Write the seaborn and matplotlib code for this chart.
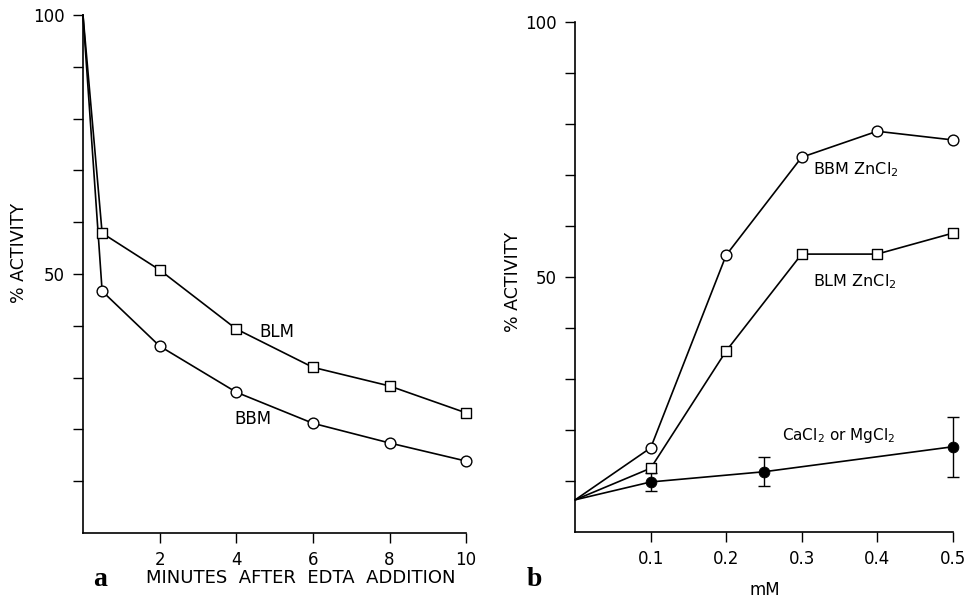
import numpy as np
import pandas as pd
import matplotlib
matplotlib.use("Agg")
import matplotlib.pyplot as plt
import seaborn as sns

# ---- data: panel a ----
minutes = [0, 0.5, 2, 4, 6, 8, 10]
blm_activity = [100, 57.9, 50.8, 39.4, 32.0, 28.4, 23.2]
bbm_activity = [100, 46.7, 36.1, 27.2, 21.2, 17.4, 13.9]

# ---- data: panel b ----
mm = [0, 0.1, 0.2, 0.3, 0.4, 0.5]
bbm_zn = [6.3, 16.5, 54.3, 73.5, 78.6, 76.9]
blm_zn = [6.3, 12.5, 35.5, 54.5, 54.5, 58.6]
ca_mm = [0, 0.1, 0.25, 0.5]
ca_mg = [6.3, 9.8, 11.8, 16.7]
ca_err = [0, 1.8, 2.8, 5.9]

a_xticks = [2, 4, 6, 8, 10]
b_xticks = [0.1, 0.2, 0.3, 0.4, 0.5]
b_xticklabels = ["0.1", "0.2", "0.3", "0.4", "0.5"]
y_ticks = [10, 20, 30, 40, 50, 60, 70, 80, 90, 100]
y_ticklabels = ["", "", "", "", "50", "", "", "", "", "100"]

sns.set_style("ticks")
plt.rcParams['font.family'] = ['DejaVu Sans']
plt.rcParams['text.color'] = 'black'
plt.rcParams['axes.labelcolor'] = 'black'
plt.rcParams['xtick.color'] = 'black'
plt.rcParams['ytick.color'] = 'black'

fig = plt.figure(figsize=(9.75, 5.99), dpi=100)
axa = fig.add_axes([0.0851, 0.110, 0.393, 0.865])
axb = fig.add_axes([0.590, 0.112, 0.387, 0.851])

lw = 1.2
mkw = dict(facecolor="white", edgecolor="black", linewidth=1.0, clip_on=False)

# panel a
da = pd.DataFrame({"x": minutes, "blm": blm_activity, "bbm": bbm_activity})
sns.lineplot(data=da, x="x", y="blm", ax=axa, color="black", lw=lw, clip_on=False)
sns.lineplot(data=da, x="x", y="bbm", ax=axa, color="black", lw=lw, clip_on=False)
sns.scatterplot(data=da.iloc[1:], x="x", y="blm", ax=axa, marker="s", s=55, zorder=3, **mkw)
sns.scatterplot(data=da.iloc[1:], x="x", y="bbm", ax=axa, marker="o", s=60, zorder=3, **mkw)
axa.set_xlim(0, 10)
axa.set_ylim(0, 100)
axa.set_xticks(a_xticks)
axa.set_xticklabels([str(t) for t in a_xticks])
axa.set_yticks(y_ticks)
axa.set_yticklabels(y_ticklabels)
axa.set_xlabel("")
axa.set_ylabel("% ACTIVITY", fontsize=12.5)
axa.yaxis.set_label_coords(-0.144, 0.54)
axa.text(5.05, 38.8, "BLM", fontsize=12, ha="center", va="center")
axa.text(4.44, 22.0, "BBM", fontsize=12, ha="center", va="center")

# panel b
db = pd.DataFrame({"x": mm, "bbm": bbm_zn, "blm": blm_zn})
dc = pd.DataFrame({"x": ca_mm, "y": ca_mg, "e": ca_err})
sns.lineplot(data=db, x="x", y="bbm", ax=axb, color="black", lw=lw, clip_on=False)
sns.lineplot(data=db, x="x", y="blm", ax=axb, color="black", lw=lw, clip_on=False)
sns.lineplot(data=dc, x="x", y="y", ax=axb, color="black", lw=lw, clip_on=False)
sns.scatterplot(data=db.iloc[1:], x="x", y="bbm", ax=axb, marker="o", s=60, zorder=3, **mkw)
sns.scatterplot(data=db.iloc[1:], x="x", y="blm", ax=axb, marker="s", s=55, zorder=3, **mkw)
sns.scatterplot(data=dc.iloc[1:], x="x", y="y", ax=axb, marker="o", s=60, color="black",
                edgecolor="black", zorder=3, clip_on=False)
eb = axb.errorbar(dc["x"][1:], dc["y"][1:], yerr=dc["e"][1:], fmt="none", ecolor="black",
                  elinewidth=1.0, capsize=4, capthick=1.0)
for art in list(eb.lines[1]) + list(eb.lines[2]):
    art.set_clip_on(False)
axb.set_xlim(0, 0.5)
axb.set_ylim(0, 100)
axb.set_xticks(b_xticks)
axb.set_xticklabels(b_xticklabels)
axb.set_yticks(y_ticks)
axb.set_yticklabels(y_ticklabels)
axb.set_xlabel("")
axb.set_ylabel("% ACTIVITY", fontsize=12.5)
axb.yaxis.set_label_coords(-0.142, 0.49)
axb.text(0.315, 71.0, "BBM ZnCl$_2$", fontsize=11.5, ha="left", va="center")
axb.text(0.315, 49.0, "BLM ZnCl$_2$", fontsize=11.5, ha="left", va="center")
axb.text(0.274, 19.0, "CaCl$_2$ or MgCl$_2$", fontsize=11, ha="left", va="center")

for ax in (axa, axb):
    sns.despine(ax=ax)
    ax.tick_params(axis="both", direction="out", length=7, width=1.0, labelsize=12, pad=6)
    for sp in ("left", "bottom"):
        ax.spines[sp].set_linewidth(1.2)
        ax.spines[sp].set_color("black")

fig.text(0.308, 0.035, "MINUTES  AFTER  EDTA  ADDITION", fontsize=13, ha="center", va="center")
fig.text(0.784, 0.015, "mM", fontsize=12, ha="center", va="center")
fig.text(0.103, 0.033, "a", fontsize=20, fontweight="bold", family="Liberation Serif",
         ha="center", va="center")
fig.text(0.548, 0.033, "b", fontsize=20, fontweight="bold", family="Liberation Serif",
         ha="center", va="center")

fig.savefig("out.png", dpi=100)
